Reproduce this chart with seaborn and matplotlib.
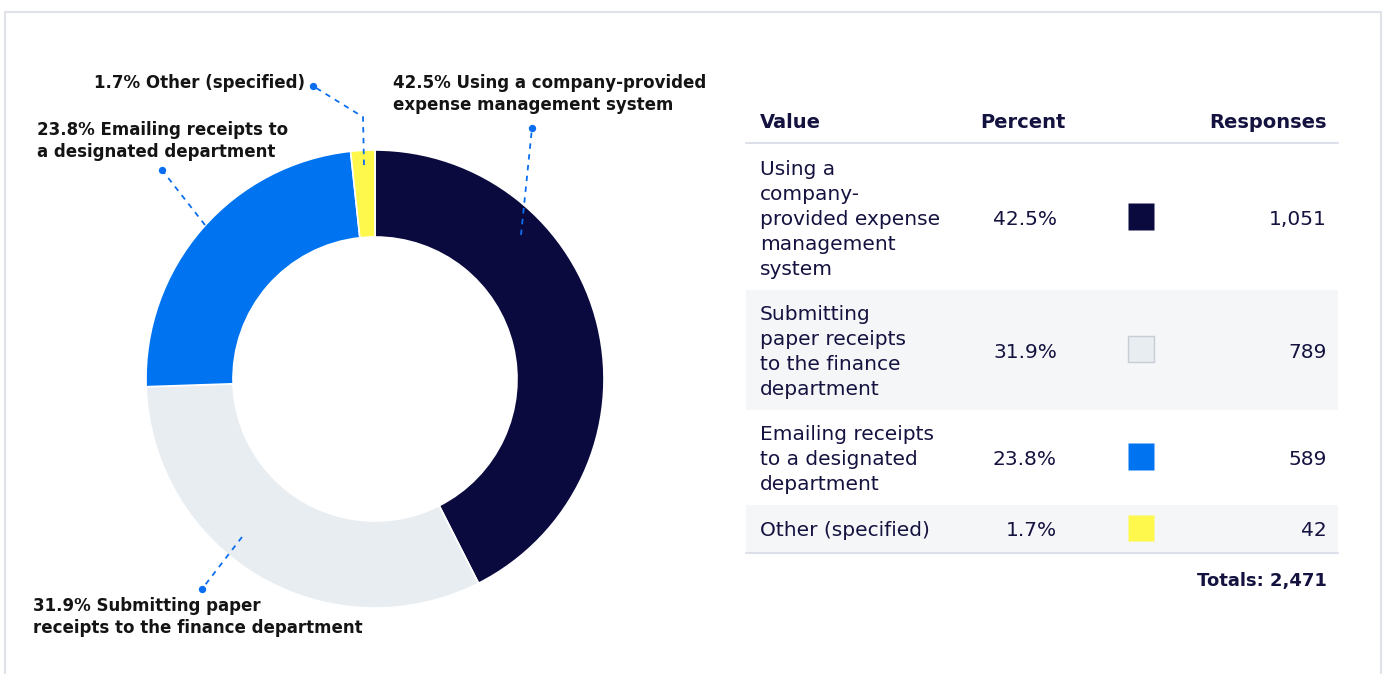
import numpy as np
import pandas as pd
import seaborn as sns
import matplotlib.pyplot as plt

W, H = 1387, 674

# data
categories = ["Using a company-provided expense management system",
              "Submitting paper receipts to the finance department",
              "Emailing receipts to a designated department",
              "Other (specified)"]
percents = [42.5, 31.9, 23.8, 1.7]
responses = [1051, 789, 589, 42]
total_responses = 2471
colors = ["#0b0a3f", "#e8edf2", "#0073f0", "#fff84c"]

# wrapped text as shown in the chart
donut_labels = ["Using a company-provided\nexpense management system",
                "Submitting paper\nreceipts to the finance department",
                "Emailing receipts to\na designated department",
                "Other (specified)"]
table_labels = ["Using a\ncompany-\nprovided expense\nmanagement\nsystem",
                "Submitting\npaper receipts\nto the finance\ndepartment",
                "Emailing receipts\nto a designated\ndepartment",
                "Other (specified)"]

sns.set_theme(style="white")
plt.rcParams["font.family"] = ["DejaVu Sans"]

NAVY = "#14123f"
DOT = "#0b6ef0"

fig = plt.figure(figsize=(W / 100, H / 100), dpi=100)
ax = fig.add_axes([0, 0, 1, 1])

def Y(y):
    return H - y

# card border
ax.plot([5, 5, 1381, 1381], [0, Y(12), Y(12), 0], color="#e0e2ea", lw=1.5)

# donut
cx, cy, r = 375, 379, 229
ax.pie(responses, colors=colors, startangle=90, counterclock=False,
       center=(cx, Y(cy)), radius=r, frame=True,
       wedgeprops=dict(width=r - 142, edgecolor="white", linewidth=1.2))

# leader lines + labels (pixel layout)
leaders = [[(521, 235), (532, 128)],
           [(242, 537), (202, 589)],
           [(205, 225), (162, 170)],
           [(364, 165), (363, 117), (313, 86)]]
label_pos = [(393, 94, "left"), (33, 617, "left"), (37, 141, "left"), (305, 83, "right")]
for pts, (lx, ly, ha), p, lab in zip(leaders, label_pos, percents, donut_labels):
    xs = [q[0] for q in pts]
    ys = [Y(q[1]) for q in pts]
    ax.plot(xs, ys, color=DOT, lw=1.3, ls=(0, (3, 3)))
    ax.scatter([xs[-1]], [ys[-1]], s=28, color=DOT, zorder=5, linewidths=0)
    ax.text(lx, Y(ly), f"{p}% {lab}", ha=ha, va="center", fontsize=12,
            fontweight="bold", color="#141414", linespacing=1.35)

# table
tx0, tx1 = 746, 1338
col_val, col_pct, col_resp = 760, 1057, 1327
for txt, x, ha in [("Value", col_val, "left"), ("Percent", 980, "left"),
                   ("Responses", col_resp, "right")]:
    ax.text(x, Y(123), txt, fontsize=14, fontweight="bold", color=NAVY, va="center", ha=ha)

bounds = [145, 290, 410, 505, 553]
centers = [(a + b) / 2 + 2 for a, b in zip(bounds[:-1], bounds[1:])]
for i in range(4):
    if i % 2 == 1:
        ax.fill_between([tx0, tx1], Y(bounds[i]), Y(bounds[i + 1]), color="#f5f6f8", lw=0)
ax.plot([tx0, tx1], [Y(143), Y(143)], color="#dde0e8", lw=1.5)
ax.plot([tx0, tx1], [Y(553), Y(553)], color="#dde0e8", lw=1.5)

for c, lab, p, n in zip(centers, table_labels, percents, responses):
    ax.text(col_val, Y(c), lab, fontsize=14.5, color=NAVY, va="center", linespacing=1.4)
    ax.text(col_pct, Y(c), f"{p}%", fontsize=14.5, color=NAVY, va="center", ha="right")
    ax.text(col_resp, Y(c), f"{n:,}", fontsize=14.5, color=NAVY, va="center", ha="right")

sw = pd.DataFrame({"x": [1141] * 4, "y": [Y(c - 3) for c in centers], "cat": categories})
sns.scatterplot(data=sw, x="x", y="y", hue="cat", palette=colors, marker="s", s=370,
                edgecolor=["none", "#c8ccd4", "none", "none"], linewidth=1,
                legend=False, ax=ax)

ax.text(col_resp, Y(581), f"Totals: {total_responses:,}", fontsize=13, fontweight="bold",
        color=NAVY, va="center", ha="right")

ax.set_xlim(0, W)
ax.set_ylim(0, H)
ax.axis("off")

fig.savefig("out.png", dpi=100)
